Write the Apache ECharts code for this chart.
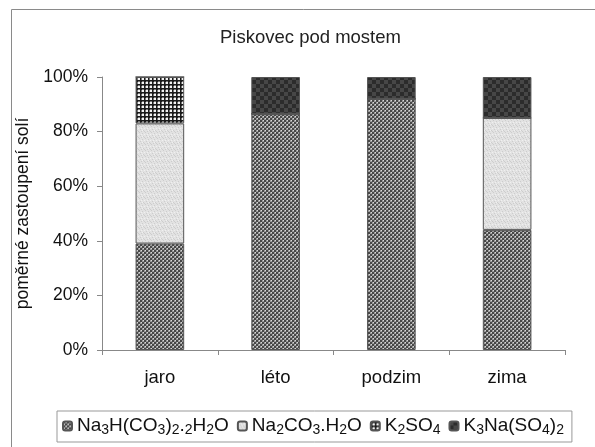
<!DOCTYPE html>
<html><head><meta charset="utf-8">
<script src="https://cdn.jsdelivr.net/npm/echarts@6/dist/echarts.min.js"></script>
<style>html,body{margin:0;padding:0;background:#fff}#c{width:595px;height:447px}</style>
</head><body><div id="c"></div>
<script>
var categories = ['jaro', 'léto', 'podzim', 'zima'];
var seriesNames = ['Na3H(CO3)2.2H2O', 'Na2CO3.H2O', 'K2SO4', 'K3Na(SO4)2'];
var na3h = [39, 86.5, 92, 44];
var na2co3 = [44, 0, 0, 41];
var k2so4 = [17, 0, 0, 0];
var k3na = [0, 13.5, 8, 15];
var yTicks = [0, 20, 40, 60, 80, 100];

var FONT = 'Liberation Sans, Arial, sans-serif';
function makePattern(size, draw) {
  var c = document.createElement('canvas');
  c.width = size; c.height = size;
  var g = c.getContext('2d');
  draw(g, size);
  return { image: c, repeat: 'repeat' };
}
var pChecker = makePattern(4, function (g) {
  g.fillStyle = '#9a9a9a'; g.fillRect(0, 0, 4, 4);
  g.fillStyle = '#474747'; g.fillRect(0, 0, 2, 2); g.fillRect(2, 2, 2, 2);
  g.fillStyle = '#d8d8d8'; g.fillRect(3, 0, 1, 1); g.fillRect(1, 2, 1, 1);
});
var pLight = makePattern(6, function (g) {
  g.fillStyle = '#e2e2e2'; g.fillRect(0, 0, 6, 6);
  g.fillStyle = '#cdcdcd';
  g.fillRect(1, 0, 1, 1); g.fillRect(4, 1, 1, 1); g.fillRect(2, 3, 1, 1);
  g.fillRect(5, 4, 1, 1); g.fillRect(0, 5, 1, 1); g.fillRect(3, 5, 1, 1);
  g.fillStyle = '#f0f0f0';
  g.fillRect(3, 2, 1, 1); g.fillRect(0, 2, 1, 1); g.fillRect(4, 4, 1, 1);
});
var pGrid = makePattern(4, function (g) {
  g.fillStyle = '#f4f4f4'; g.fillRect(0, 0, 4, 4);
  g.fillStyle = '#1a1a1a'; g.fillRect(0, 0, 4, 2); g.fillRect(0, 0, 2, 4);
  g.fillStyle = '#777'; g.fillRect(2, 1, 2, 1); g.fillRect(1, 2, 1, 2);
});
var pDark = makePattern(8, function (g) {
  g.fillStyle = '#2c2c2c'; g.fillRect(0, 0, 8, 8);
  g.fillStyle = '#474747'; g.fillRect(0, 0, 4, 4); g.fillRect(4, 4, 4, 4);
});
var patterns = [pChecker, pLight, pGrid, pDark];
var dataSets = [na3h, na2co3, k2so4, k3na];

var legendRich = {
  n: { fontSize: 19, fontFamily: FONT, color: '#111', lineHeight: 22, verticalAlign: 'middle' },
  s: { fontSize: 14, fontFamily: FONT, color: '#111', lineHeight: 22, padding: [8, 0, 0, 0], verticalAlign: 'middle' }
};
function legendFmt(name) {
  return name.replace(/(\D)(\d)/g, function(m, a, d){ return a + '\u0001' + d; })
    .split('\u0001').map(function (seg, i) {
      if (i === 0) return '{n|' + seg + '}';
      return '{s|' + seg.charAt(0) + '}' + (seg.length > 1 ? '{n|' + seg.slice(1) + '}' : '');
    }).join('');
}

var series = seriesNames.map(function (nm, i) {
  return {
    name: nm, type: 'bar', stack: 'total', barWidth: '42%',
    data: dataSets[i],
    itemStyle: { color: patterns[i], borderColor: '#555', borderWidth: 1 }
  };
});

var chart = echarts.init(document.getElementById('c'), null, { renderer: 'canvas' });
chart.setOption({
  animation: false,
  backgroundColor: '#fff',
  graphic: [{ type: 'rect', shape: { x: 11.5, y: 9.5, width: 600, height: 460 },
    style: { fill: 'none', stroke: '#8a8a8a', lineWidth: 1 }, silent: true }],
  title: { text: 'Piskovec pod mostem', left: 215, top: 23,
    textStyle: { fontSize: 18.5, fontWeight: 'normal', color: '#222', fontFamily: FONT } },
  grid: { left: 102, right: 30, top: 77, bottom: 97 },
  legend: {
    data: seriesNames, left: 57, top: 411,
    itemWidth: 9, itemHeight: 9, itemGap: 8,
    padding: [4, 8, 5, 5], borderColor: '#999', borderWidth: 1,
    formatter: legendFmt,
    textStyle: { rich: legendRich }
  },
  xAxis: {
    type: 'category', data: categories,
    axisLine: { lineStyle: { color: '#888' } },
    axisTick: { show: true, lineStyle: { color: '#888' }, length: 5 },
    axisLabel: { color: '#111', fontSize: 18.5, margin: 18, fontFamily: FONT }
  },
  yAxis: {
    type: 'value', min: 0, max: 100, interval: 20,
    name: 'poměrné zastoupení solí', nameLocation: 'middle', nameGap: 66, nameRotate: 90,
    nameTextStyle: { color: '#111', fontSize: 17.5, fontFamily: FONT },
    axisLine: { show: true, lineStyle: { color: '#888' } },
    axisTick: { show: true, lineStyle: { color: '#888' }, length: 5 },
    splitLine: { show: false },
    axisLabel: { color: '#111', fontSize: 17.5, margin: 14, fontFamily: FONT,
      formatter: function (v) { return yTicks.indexOf(v) >= 0 ? v + '%' : ''; } }
  },
  series: series
});
</script></body></html>
